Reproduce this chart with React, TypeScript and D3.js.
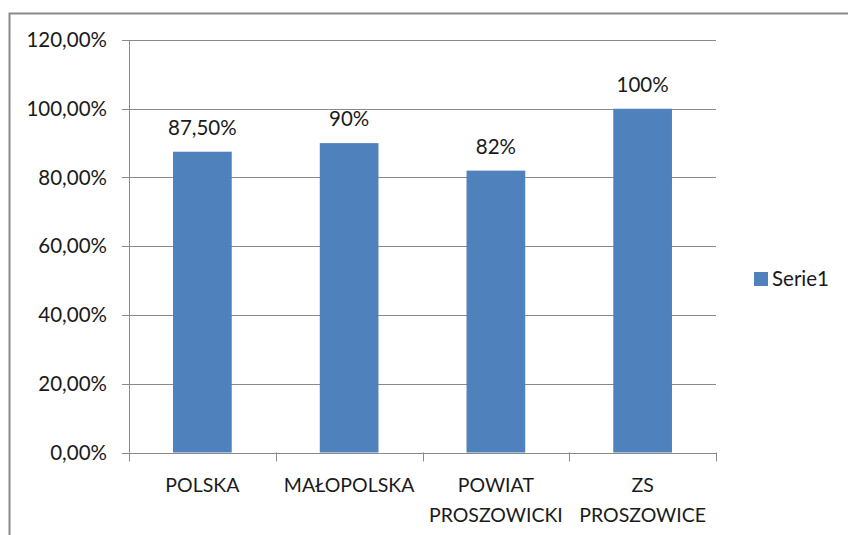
import React from "react";
import * as d3 from "d3";

const categories: string[][] = [["POLSKA"], ["MAŁOPOLSKA"], ["POWIAT", "PROSZOWICKI"], ["ZS", "PROSZOWICE"]];
const values: number[] = [0.875, 0.9, 0.82, 1.0];
const valueLabels: string[] = ["87,50%", "90%", "82%", "100%"];
const yTicks: number[] = [0, 0.2, 0.4, 0.6, 0.8, 1.0, 1.2];
const yTickLabels: string[] = ["0,00%", "20,00%", "40,00%", "60,00%", "80,00%", "100,00%", "120,00%"];
const seriesName = "Serie1";

const W = 848, H = 535;
const plot = { left: 129, right: 716, top: 40, bottom: 452.5 };
const FONT = "Lato, 'Open Sans', sans-serif";
const FS = 20.5;
const FS_CAT = 19.5;
const BAR = "#4F81BD";
const GRID = "#898989";
const TEXT = "#1a1a1a";

export default function App() {
  const xb = d3.scaleBand<number>().domain(d3.range(categories.length)).range([plot.left, plot.right]);
  const y = d3.scaleLinear().domain([0, 1.2]).range([plot.bottom, plot.top]);
  const step = xb.step();
  const barW = step * 0.4;
  return (
    <svg width={W} height={H} style={{ position: "absolute", left: 0, top: 0, background: "#fff" }}>
      <rect x={9.5} y={13.5} width={W + 10} height={H + 10} fill="#fff" stroke="#8a8a8a" strokeWidth={2} />
      {yTicks.map((t, i) => (
        <g key={i}>
          <line x1={plot.left - 7} x2={plot.right} y1={Math.round(y(t)) + 0.5} y2={Math.round(y(t)) + 0.5} stroke={GRID} strokeWidth={1} />
          <text x={107} y={y(t)} dy="0.35em" textAnchor="end" fontFamily={FONT} fontSize={FS} fill={TEXT}>{yTickLabels[i]}</text>
        </g>
      ))}
      <line x1={plot.left + 0.5} x2={plot.left + 0.5} y1={plot.top} y2={plot.bottom} stroke={GRID} />
      {d3.range(categories.length + 1).map((i) => {
        const xx = Math.round(plot.left + i * step) + 0.5;
        return <line key={i} x1={xx} x2={xx} y1={plot.bottom} y2={plot.bottom + 9} stroke={GRID} />;
      })}
      {values.map((v, i) => {
        const cx = (xb(i) as number) + step / 2;
        return (
          <g key={i}>
            <rect x={cx - barW / 2} y={y(v)} width={barW} height={plot.bottom - y(v)} fill={BAR} />
            <text x={cx} y={y(v) - 17} textAnchor="middle" fontFamily={FONT} fontSize={FS} fill={TEXT}>{valueLabels[i]}</text>
            {categories[i].map((line, j) => (
              <text key={j} x={cx} y={492 + j * 29.5} textAnchor="middle" fontFamily={FONT} fontSize={FS_CAT} fill={TEXT}>{line}</text>
            ))}
          </g>
        );
      })}
      <rect x={754} y={272} width={14} height={14} fill={BAR} />
      <text x={772} y={286} fontFamily={FONT} fontSize={FS} fill={TEXT}>{seriesName}</text>
    </svg>
  );
}
